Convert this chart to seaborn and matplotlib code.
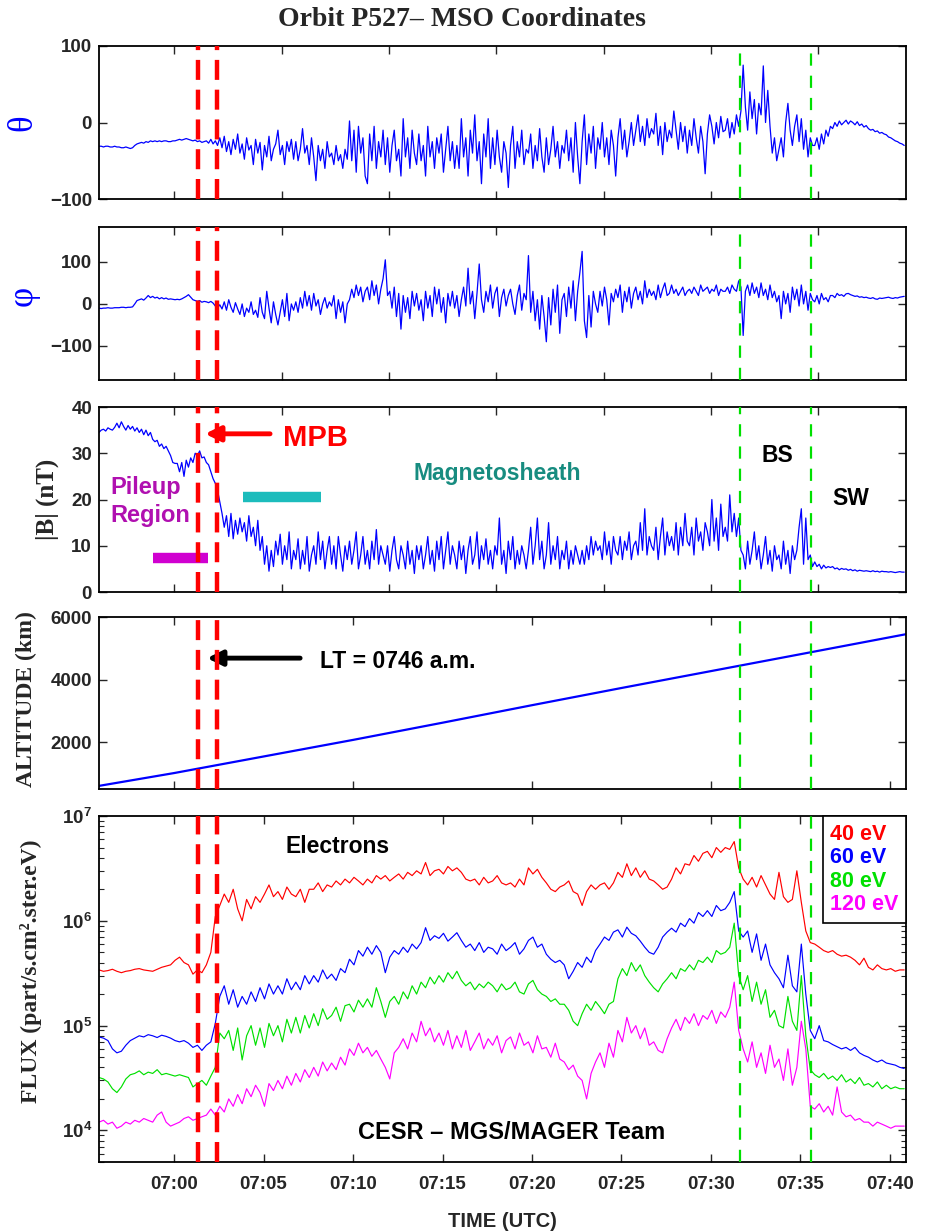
import numpy as np
import matplotlib
matplotlib.use("Agg")
import matplotlib.pyplot as plt
import seaborn as sns
from matplotlib.ticker import FixedLocator, FuncFormatter, LogLocator, NullFormatter, FixedFormatter
from matplotlib.lines import Line2D

# ---------------- data (time in minutes after 07:00 UTC) ----------------
T0 = -4.2
# theta (deg), 8 samples per minute
theta = [
 -31,-31,-32,-31,-31,-32,-32,-31,
 -32,-32,-33,-33,-32,-33,-34,-33,
 -30,-28,-27,-26,-27,-25,-26,-24,
 -25,-24,-25,-24,-25,-24,-24,-25,
 -25,-24,-24,-23,-22,-23,-22,-21,
 -22,-23,-24,-23,-25,-24,-26,-25,
 -24,-27,-22,-28,-24,-30,-20,-33,
 -18,-38,-25,-42,-22,-35,-15,-40,
 -28,-48,-20,-36,-30,-55,-22,-40,
 -26,-62,-30,-45,-18,-50,-35,-28,
 -10,-42,-30,-55,-25,-38,-22,-48,
 -25,-50,-35,-8,-40,-30,-55,-20,
 -45,-76,-30,-50,-35,-60,-25,-45,
 -40,-55,-30,-50,-42,-60,-35,-48,
 2,-50,-10,-65,-5,-40,-20,-70,
 -80,-15,-50,-5,-60,-25,-45,-10,
 -55,-20,-65,-30,-10,-50,-35,-70,
 5,-45,-20,-60,-10,-40,-55,-15,
 -50,-30,-70,-5,-45,-25,-60,-20,
 -40,-15,-65,-35,-5,-50,-25,-60,
 -30,-60,5,-45,-20,-70,-10,-40,
 10,-50,-25,-80,-15,-45,5,-60,
 -20,-55,-10,-45,-65,-25,-40,-85,
 -30,-5,-60,-25,-45,-10,-55,-35,
 -40,-15,-60,-30,-50,-8,-45,-65,
 -20,-55,-35,-5,-45,-25,-60,-30,
 -40,-10,-50,-20,-65,0,-45,-80,
 -25,10,-55,-15,-40,-5,-60,-20,
 -35,0,-45,-20,-55,-10,-30,-70,
 -20,5,-35,-10,-45,-25,0,-30,
 -10,10,-25,-5,-30,5,-20,-8,
 -15,12,-30,-5,-42,0,-25,-10,
 -20,15,-10,-35,0,-25,-5,-40,
 -10,-30,5,-20,-40,-5,-25,-67,
 -15,10,-5,-28,0,-20,8,-12,
 -10,5,-20,0,-15,10,-5,15,
 75,20,-10,40,5,30,-15,25,
 10,74,0,42,-5,-40,-20,-50,
 -35,-20,-45,0,25,-10,-30,-5,
 10,-25,5,-35,-10,-45,-20,-30,
 -30,-20,-35,-15,-28,-10,-18,-5,
 -8,0,-5,2,-3,0,3,-2,
 2,0,-3,1,-4,-2,-6,-4,
 -8,-10,-9,-12,-11,-14,-13,-15,
 -16,-19,-20,-22,-24,-25,-27,-28,
 -30]

# phi (deg), 8 samples per minute
phi = [
 -10,-11,-10,-10,-9,-10,-10,-9,
 -9,-9,-8,-8,-9,-8,-8,-7,
 0,8,10,12,9,14,20,15,
 18,14,16,12,15,12,14,11,
 12,11,10,11,10,12,15,18,
 22,16,10,8,6,8,4,6,
 5,3,6,2,-5,-10,-2,-12,
 5,-15,10,-8,-20,3,-12,-25,
 0,-30,-10,-20,5,-25,-15,-32,
 15,-20,-35,30,-10,-45,5,-25,
 -50,-20,10,-30,25,-40,0,-15,
 5,-20,15,-10,30,-5,20,-15,
 25,-5,10,-25,0,15,-10,5,
 -5,20,-35,10,-20,5,-45,0,
 10,35,15,45,20,40,5,30,
 40,10,55,20,45,0,35,60,
 105,20,30,-10,40,-30,25,-60,
 20,-20,15,-35,30,-5,25,-15,
 10,-40,30,-10,20,-30,40,0,
 35,-20,15,-45,25,-5,30,-10,
 20,-30,10,40,-5,85,0,30,
 -35,25,95,10,-20,30,5,45,
 -10,25,40,-30,15,35,-5,20,
 35,0,-25,20,45,-15,25,10,
 115,-20,30,-40,10,-60,20,-30,
 -90,15,-50,35,-20,45,-70,10,
 25,-30,40,-10,55,-40,30,75,
 125,-40,-80,20,-55,30,0,-20,
 30,-5,40,10,-50,25,5,35,
 15,45,-20,30,5,40,-10,25,
 40,10,30,0,55,15,35,20,
 30,10,45,15,35,50,20,25,
 45,25,35,20,30,40,20,30,
 35,25,40,30,20,45,30,35,
 40,25,35,30,45,20,35,30,
 30,40,25,45,35,30,55,40,
 -75,30,45,20,50,25,40,15,
 50,20,35,10,45,15,30,5,
 20,-35,30,0,25,-20,40,10,
 35,-5,45,0,30,-15,25,10,
 5,20,0,25,10,15,5,20,
 20,15,25,20,22,18,24,25,
 22,20,18,19,16,17,15,16,
 14,13,15,12,11,14,13,14,
 15,16,14,13,15,14,16,17,
 18]

# |B| (nT), 8 samples per minute
bmag = [
 34.5,35,35.2,34.8,35.5,35.2,35,35.6,
 36.5,35.5,36.8,35.8,35,36,35.2,35.8,
 34.8,35.5,34.5,35.2,34,35,33.8,34.5,
 33,32.5,32.8,31.5,32,31,31.5,30.5,
 29.5,28,27.8,27.8,26,28,25,28.5,
 27,29,28,30,29.5,30.5,29,29.2,
 28,27.5,26,24.5,23.5,22,19.5,17,
 14,16.5,12,17,11.5,15.5,12.5,16,
 13,15,11,16.5,12,14,10,15.5,
 9,12,6,10,4.5,9,5.5,11,
 8,12.5,6,10,7,13,5,9,
 7,11.5,5,9,6,12,4.5,8,
 10,6,13,7,11,5,9,12,
 6,10,5,12,8,4.5,10,7,
 11,6,9,13,5,8,12,6,
 9,5,11,7,13.5,6,10,8,
 6,10,4.5,9,12,7,5,10,
 8,5,11,6,9,4,10,7,
 10,5,8,12,6,9,4.5,11,
 7,12,5,9,13,6,10,8,
 5,11,7,10,4,9,12,6,
 8,13,5,10,7,11.5,6,9,
 5,10,8,16,6,9,4,11,
 7,12,5,9,6,10,8,5,
 9,14,6,10,16,7,11,5,
 8,15,6,10,7,12,5,9,
 7,11,5,9,6,10,8,6,
 9,6,10,7,12,8,11,9,
 10,7,13,8,11,6,12,9,
 8,12,7,11,9,13,7,10,
 11,8,15,9,18,8,12,10,
 9,14,7,12,16,8,13,10,
 12,9,15,8,14,10,17,11,
 10,14,8,16,11,13,9,15,
 13,10,20,11,16,9,19,12,
 14,11,21,13,17,12,16,9,
 8,5,11,6,9,13,7,10,
 5,8,12,6,9,4.5,10,7,
 8,5,11,6,9,4,10,7,
 9,14,18,6,16,7,8,5.5,
 6.5,5.5,6,5,5.8,5.2,5.5,5.3,
 5.5,5,5.2,4.8,5.1,4.9,5,4.7,
 4.9,4.6,4.8,4.5,4.7,4.6,4.5,4.6,
 4.5,4.4,4.6,4.4,4.5,4.3,4.5,4.4,
 4.4,4.3,4.4,4.3,4.2,4.3,4.4,4.3,
 4.3]

# altitude (km)
alt_time = [-4.2, 0, 5, 10, 15, 20, 25, 30, 35, 40.9]
altitude = [600, 1010, 1540, 2070, 2620, 3180, 3730, 4270, 4810, 5450]

# electron fluxes (in units of 1e3 part/s.cm2.ster.eV), 4 samples per minute
flux40_k = [
 340,330,335,345, 330,320,330,335, 345,350,340,335, 330,345,360,370,
 380,420,450,400, 380,310,340,320, 380,500,1100,1400, 1800,1500,2000,1300,
 1000,1600,1300,1700, 1500,1800,2200,1700, 1900,1600,2100,1800, 1700,2000,1500,2000,
 2000,2300,1900,2200, 2100,2400,2200,2500, 2300,2600,2400,2200, 2500,2300,2700,2500,
 2700,2400,2600,2800, 2500,2900,2700,3000, 2800,3600,2700,3000, 3100,2800,3300,3000,
 3200,2900,2500,2400, 2500,2200,2600,2300, 2400,2700,2300,2200, 2300,2100,2500,2200,
 3200,2800,3100,2600, 2300,2000,1900,2100, 2200,2400,1900,1800, 1400,1900,2200,2000,
 2200,2300,2000,2300, 2900,2600,3500,2700, 3200,2600,3000,2500, 2400,2200,2000,2100,
 2500,3200,2800,3500, 3400,4200,3700,4400, 4600,4000,5000,4500, 5000,4800,5700,3200,
 2500,2200,2600,2100, 2700,2200,1800,1600, 2900,1700,1500,1600, 3000,1500,800,620,
 600,560,520,500, 520,480,460,470, 450,420,380,440, 360,340,380,350, 340,350,330,340,
 340]
flux60_k = [
 78,76,72,60, 55,57,65,72, 76,80,78,82, 80,77,81,79,
 76,72,70,72, 68,62,65,58, 65,70,105,190, 240,160,220,150,
 190,160,210,170, 230,180,250,200, 240,200,280,220, 260,220,300,250,
 300,260,340,280, 310,270,350,320, 430,380,520,460, 560,480,580,500,
 320,450,520,480, 560,500,600,540, 620,860,650,720, 680,760,640,700,
 770,650,560,600, 520,620,500,560, 540,480,600,520, 560,620,480,540,
 650,700,560,600, 480,430,400,420, 380,280,330,400, 360,450,400,520,
 600,700,650,780, 820,700,870,760, 720,640,560,500, 480,560,700,780,
 850,780,950,880, 1050,950,1200,1100, 1250,1100,1400,1250, 1300,1500,1900,800,
 700,800,500,750, 420,600,380,320, 280,230,470,240, 210,600,200,90,
 75,100,72,70, 66,63,60,62, 58,62,55,52, 50,47,45,47, 44,43,42,40,
 39]
flux80_k = [
 32,31,29,25, 23,26,31,34, 35,37,34,36, 35,38,34,35,
 34,33,34,33, 32,26,28,30, 27,33,40,85, 75,90,58,95,
 47,80,100,65, 95,62,105,80, 100,70,115,85, 120,85,125,95,
 130,100,145,115, 125,150,110,155, 160,135,175,150, 180,150,230,170,
 120,170,190,160, 210,180,240,200, 260,230,290,250, 300,260,320,280,
 330,270,240,260, 220,250,230,260, 240,210,250,220, 230,260,210,200,
 250,270,220,200, 190,170,180,160, 160,140,110,100, 130,160,140,170,
 150,130,160,170, 280,350,300,400, 330,380,300,260, 230,210,250,280,
 320,280,350,330, 380,340,420,400, 450,400,520,480, 500,560,950,300,
 220,300,170,260, 160,220,120,140, 100,95,190,110, 90,300,80,38,
 34,32,35,31, 33,30,34,29, 31,28,32,27, 28,26,29,25, 27,25,26,25,
 25]
flux120_k = [
 12,12.5,11.5,12, 10.5,11,12,11.5, 12.5,12,13,12.5, 12,14,15,12,
 11,11.5,12,13, 13.5,12.5,13,13.5, 14,16,14,17, 15,20,17,22,
 18,25,21,27, 23,17,28,24, 30,25,33,27, 35,29,38,32,
 40,33,45,37, 44,38,50,42, 60,52,68,55, 62,51,58,48,
 40,31,55,62, 75,60,85,70, 110,80,95,70, 85,65,90,60,
 80,62,90,58, 70,85,60,75, 65,80,55,72, 78,60,85,65,
 70,55,80,60, 62,50,68,48, 45,38,42,33, 30,20,35,45,
 55,40,68,50, 90,70,120,85, 100,75,95,65, 70,58,55,75,
 95,115,90,120, 105,130,100,125, 115,140,105,135, 120,150,260,90,
 60,45,70,40, 55,35,65,40, 48,30,60,27, 40,110,60,17,
 16,18,15,17, 14,26,15,13.5, 14,12.5,13,12, 12,11,12,11.5, 11,10.5,11,11,
 11]

energy_labels = ["40 eV", "60 eV", "80 eV", "120 eV"]
energy_colors = ["#ff0000", "#0000ff", "#00e000", "#ff00ff"]
mpb_times = [1.34, 2.40]
bs_times = [31.6, 35.6]

# ---------------- styling ----------------
sns.set_style("ticks")
plt.rcParams["font.family"] = ["Liberation Sans", "DejaVu Sans"]
plt.rcParams["font.weight"] = "bold"
plt.rcParams["mathtext.fontset"] = "custom"
plt.rcParams["mathtext.bf"] = "Liberation Sans:bold"
plt.rcParams["mathtext.rm"] = "Liberation Sans:bold"
plt.rcParams["mathtext.default"] = "bf"

W, H = 925, 1232
fig = plt.figure(figsize=(W / 100, H / 100), dpi=100)

def ax_at(left, top, right, bottom):
    return fig.add_axes([left / W, 1 - bottom / H, (right - left) / W, (bottom - top) / H])

ax1 = ax_at(99, 46, 906, 199)
ax2 = ax_at(99, 227, 906, 380)
ax3 = ax_at(99, 407, 906, 592)
ax4 = ax_at(99, 617, 906, 789)
ax5 = ax_at(99, 816, 906, 1162)
axes = [ax1, ax2, ax3, ax4, ax5]

t8 = T0 + 0.125 * np.arange(len(theta))
t8b = T0 + 0.125 * np.arange(len(bmag))
t8p = T0 + 0.125 * np.arange(len(phi))

BLUE = "#0000ff"
sns.lineplot(x=t8, y=theta, ax=ax1, color=BLUE, lw=0.9)
sns.lineplot(x=t8p, y=phi, ax=ax2, color=BLUE, lw=0.9)
sns.lineplot(x=t8b, y=bmag, ax=ax3, color=BLUE, lw=0.9)
sns.lineplot(x=alt_time, y=altitude, ax=ax4, color=BLUE, lw=1.6)
fluxes = [flux40_k, flux60_k, flux80_k, flux120_k]
for vals, lab, col in zip(fluxes, energy_labels, energy_colors):
    sns.lineplot(x=T0 + 0.25 * np.arange(len(vals)), y=np.array(vals) * 1e3, ax=ax5,
                 color=col, lw=0.85, label=lab)
ax5.set_yscale("log")

XMIN, XMAX = -4.2, 40.9
for ax in axes:
    ax.set_xlim(XMIN, XMAX)
    for m in mpb_times:
        ax.axvline(m, color="#ff0000", lw=3.2, dashes=(4.5, 2.2), zorder=5)
    for b in bs_times:
        ax.axvline(b, color="#00e000", lw=1.6, dashes=(5.5, 4.5), zorder=5)
    for s in ax.spines.values():
        s.set_linewidth(1.3)
        s.set_color("black")
    ax.tick_params(direction="in", top=True, right=True, length=6, width=1,
                   labelsize=13.5, pad=5)

for ax in (ax1, ax2, ax3):
    ax.xaxis.set_major_locator(FixedLocator([0, 6, 12, 18, 24, 30, 36]))
    ax.tick_params(labelbottom=False)
ax4.xaxis.set_major_locator(FixedLocator([0, 10, 20, 30, 40]))
ax4.tick_params(labelbottom=False)
ax5.xaxis.set_major_locator(FixedLocator([0, 5, 10, 15, 20, 25, 30, 35, 40]))
ax5.xaxis.set_major_formatter(FuncFormatter(lambda v, p: f"07:{int(round(v)):02d}"))
ax5.tick_params(axis="x", pad=10)

ax1.set_ylim(-100, 100)
ax1.yaxis.set_major_locator(FixedLocator([-100, 0, 100]))
ax2.set_ylim(-181, 183)
ax2.yaxis.set_major_locator(FixedLocator([-100, 0, 100]))
ax3.set_ylim(0, 40)
ax3.yaxis.set_major_locator(FixedLocator([0, 10, 20, 30, 40]))
ax4.set_ylim(500, 6000)
ax4.yaxis.set_major_locator(FixedLocator([2000, 4000, 6000]))
ax5.set_ylim(5e3, 1e7)
ax5.yaxis.set_major_locator(FixedLocator([1e4, 1e5, 1e6, 1e7]))
ax5.yaxis.set_major_formatter(FixedFormatter([r"$10^4$", r"$10^5$", r"$10^6$", r"$10^7$"]))
ax5.yaxis.set_minor_locator(LogLocator(base=10, subs=np.arange(2, 10)))
ax5.yaxis.set_minor_formatter(NullFormatter())
ax5.tick_params(which="minor", direction="in", right=True, length=3.5, width=0.8)

for ax in axes:
    for lab in ax.get_xticklabels() + ax.get_yticklabels():
        lab.set_fontweight("bold")

# y labels
SERIF = ["Liberation Serif", "DejaVu Serif"]
ax1.set_ylabel("θ", color=BLUE, fontsize=25, family=SERIF, fontweight="normal")
ax1.yaxis.set_label_coords(-0.074, 0.5)
ax2.set_ylabel("φ", color=BLUE, fontsize=25, family=SERIF, fontweight="normal")
ax2.yaxis.set_label_coords(-0.074, 0.55)
ax3.set_ylabel("|B| (nT)", fontsize=18, family=SERIF, fontweight="bold")
ax3.yaxis.set_label_coords(-0.05, 0.5)
ax4.set_ylabel("ALTITUDE (km)", fontsize=17, family=SERIF, fontweight="bold")
ax4.yaxis.set_label_coords(-0.077, 0.52)
ax5.set_ylabel("FLUX (part/s.cm².ster.eV)", fontsize=17, family=SERIF, fontweight="bold")
ax5.yaxis.set_label_coords(-0.071, 0.55)
ax5.set_xlabel("TIME (UTC)", fontsize=14.5, fontweight="bold", labelpad=14)

fig.text(462 / W, 1 - 19 / H, "Orbit P527– MSO Coordinates", ha="center", va="center",
         fontsize=20, family=SERIF, fontweight="bold")

# |B| panel annotations
ax3.annotate("", xy=(1.73, 34.2), xytext=(5.36, 34.2),
             arrowprops=dict(arrowstyle="-|>,head_length=0.9,head_width=0.45",
                             color="#ff0000", lw=3.5, shrinkA=0, shrinkB=0))
ax3.text(6.09, 33.3, "MPB", color="#ff0000", fontsize=21, fontweight="bold", va="center", ha="left")
PURPLE = "#b010b0"
ax3.text(-3.58, 22.7, "Pileup", color=PURPLE, fontsize=17, fontweight="bold", va="center", ha="left")
ax3.text(-3.58, 16.6, "Region", color=PURPLE, fontsize=17, fontweight="bold", va="center", ha="left")
ax3.plot([-1.17, 1.9], [7.35, 7.35], color="#d000d0", lw=7.5, solid_capstyle="butt")
ax3.plot([3.85, 8.21], [20.5, 20.5], color="#1cbcbc", lw=7.5, solid_capstyle="butt")
ax3.text(13.35, 25.7, "Magnetosheath", color="#178c80", fontsize=16.5, fontweight="bold",
         va="center", ha="left")
ax3.text(32.85, 29.6, "BS", color="black", fontsize=16.5, fontweight="bold", va="center", ha="left")
ax3.text(36.8, 20.3, "SW", color="black", fontsize=16.5, fontweight="bold", va="center", ha="left")

# altitude annotation
ax4.annotate("", xy=(1.84, 4685), xytext=(7.04, 4685),
             arrowprops=dict(arrowstyle="-|>,head_length=0.9,head_width=0.45",
                             color="black", lw=3.5, shrinkA=0, shrinkB=0))
ax4.text(8.16, 4590, "LT = 0746 a.m.", color="black", fontsize=16.5, fontweight="bold",
         va="center", ha="left")

# flux annotations
ax5.text(6.2, 5.07e6, "Electrons", color="black", fontsize=16.5, fontweight="bold", va="center", ha="left")
ax5.text(10.28, 9.6e3, "CESR – MGS/MAGER Team", color="black", fontsize=17, fontweight="bold",
         va="center", ha="left")
handles = [Line2D([], [], color=c, lw=0) for c in energy_colors]
leg = ax5.legend(handles, energy_labels, loc="upper right", bbox_to_anchor=(1.0, 1.0),
                 borderaxespad=0, handlelength=0, handletextpad=0, labelspacing=0.12,
                 borderpad=0.35, fancybox=False, framealpha=1, edgecolor="black",
                 prop={"weight": "bold", "size": 15.5}, labelcolor=energy_colors)
leg.get_frame().set_linewidth(1.2)
leg.set_zorder(10)

fig.savefig("out.png", dpi=100)
